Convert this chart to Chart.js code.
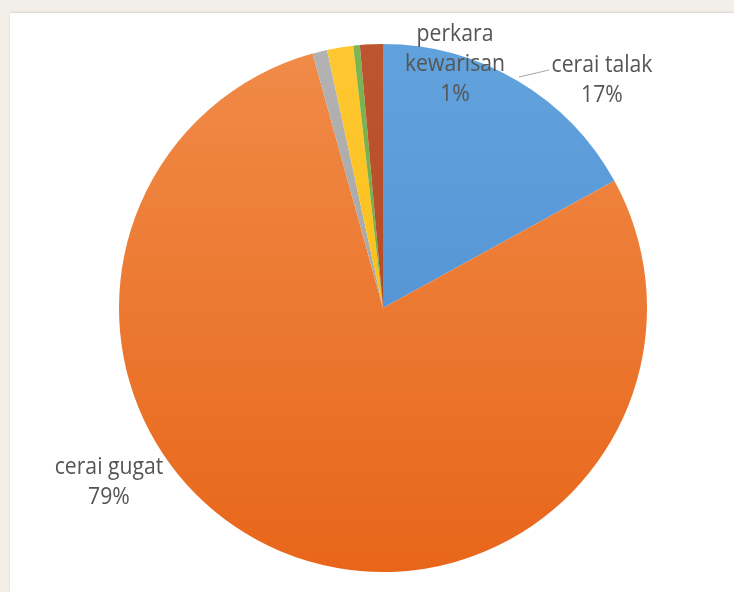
<!DOCTYPE html>
<html>
<head>
<meta charset="utf-8">
<script src="https://cdn.jsdelivr.net/npm/chart.js@4.4.1/dist/chart.umd.min.js"></script>
<style>
  html, body { margin: 0; padding: 0; width: 734px; height: 592px; overflow: hidden; background: #f2efe9; }
  .panel { position: absolute; left: 10px; top: 13px; right: 0; bottom: 0; background: #ffffff; box-shadow: 0 -1px 2px #d8d5cf; }
  #chartBox { position: absolute; left: 0; top: 0; width: 734px; height: 592px; }
</style>
</head>
<body>
<div class="panel"></div>
<div id="chartBox"><canvas id="pieChart"></canvas></div>
<script>
// slices in clockwise order from 12 o'clock
const categories = ["cerai talak", "cerai gugat", "izin poligami", "isbat nikah", "dispensasi kawin", "perkara kewarisan"];
const shares = [17.0, 78.7, 0.9, 1.6, 0.4, 1.4];
const topColors = ["#62a2dc", "#f08b48", "#b3b3b3", "#ffc833", "#7cb653", "#bd5530"];
const bottomColors = ["#4a8ad0", "#e8661a", "#9a9a9a", "#f5b800", "#63a03d", "#a8441e"];

// which slices get a text label, and where it sits
const labelPos = {
  "cerai talak": { x: 602, y: 80 },
  "cerai gugat": { x: 109, y: 482 },
  "perkara kewarisan": { x: 455, y: 64, lines: ["perkara", "kewarisan"] }
};

function percentText(value) {
  const total = shares.reduce((a, b) => a + b, 0);
  return Math.round(value / total * 100) + "%";
}

function sliceGradient(context) {
  const chart = context.chart;
  const area = chart.chartArea;
  if (!area) return topColors[context.dataIndex];
  const g = chart.ctx.createLinearGradient(0, area.top, 0, area.bottom);
  g.addColorStop(0, topColors[context.dataIndex]);
  g.addColorStop(1, bottomColors[context.dataIndex]);
  return g;
}

const sliceLabels = {
  id: "sliceLabels",
  afterDraw(chart) {
    const ctx = chart.ctx;
    ctx.save();
    ctx.fillStyle = "#555555";
    ctx.textAlign = "center";
    ctx.textBaseline = "middle";
    ctx.font = "20px 'Open Sans'";

    categories.forEach((name, i) => {
      const pos = labelPos[name];
      if (!pos) return;
      const lines = (pos.lines || [name]).concat([percentText(shares[i])]);
      const lineH = 30;
      const startY = pos.y - (lines.length - 1) * lineH / 2;
      lines.forEach((line, k) => {
        ctx.save();
        ctx.translate(pos.x, startY + k * lineH);
        ctx.scale(1.06, 1.2);
        ctx.fillText(line, 0, 0);
        ctx.restore();
      });
    });

    // leader line for cerai talak
    ctx.strokeStyle = "#a6a6a6";
    ctx.lineWidth = 1;
    ctx.beginPath();
    ctx.moveTo(519, 77);
    ctx.lineTo(549, 70);
    ctx.stroke();
    ctx.restore();
  }
};

new Chart(document.getElementById("pieChart"), {
  type: "pie",
  data: {
    labels: categories,
    datasets: [{
      data: shares,
      backgroundColor: sliceGradient,
      borderWidth: 0
    }]
  },
  options: {
    responsive: true,
    maintainAspectRatio: false,
    animation: false,
    layout: {
      padding: { top: 44, bottom: 20, left: 119, right: 87 }
    },
    plugins: {
      legend: { display: false },
      tooltip: { enabled: false }
    }
  },
  plugins: [sliceLabels]
});
</script>
</body>
</html>
